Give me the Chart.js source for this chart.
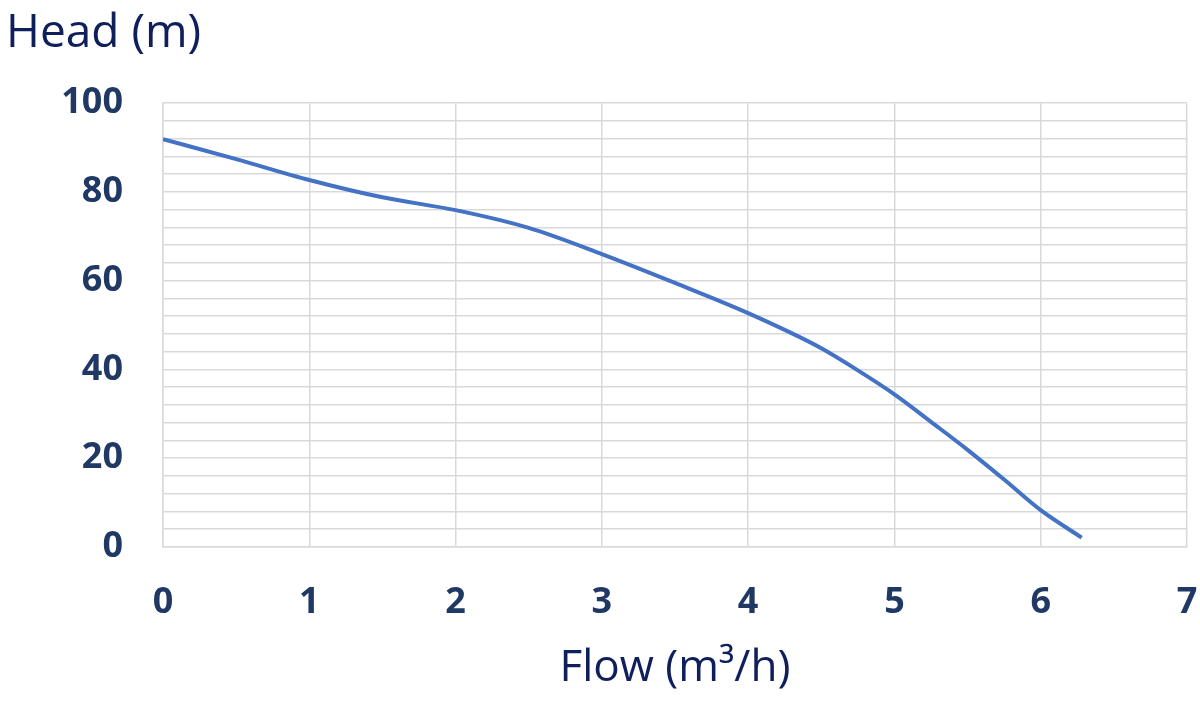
<!DOCTYPE html>
<html>
<head>
<meta charset="utf-8">
<script src="https://cdn.jsdelivr.net/npm/chart.js@4.4.1/dist/chart.umd.min.js"></script>
<style>
  html, body { margin: 0; padding: 0; background: #fff; }
  #wrap { width: 1200px; height: 701px; }
</style>
</head>
<body>
<div id="wrap"><canvas id="pump-curve"></canvas></div>
<script>
// pump curve
var flow = [0, 0.5, 1, 1.5, 2, 2.5, 3, 3.5, 4, 4.5, 4.75, 5, 5.25, 5.5, 5.75, 6, 6.28];
var head = [91.9, 87.4, 82.7, 78.8, 75.9, 71.9, 66.0, 59.5, 52.7, 44.8, 39.8, 34.4, 28.2, 21.9, 15.2, 8.3, 2.1];

var xTicks = [0, 1, 2, 3, 4, 5, 6, 7];
var yLabels = [0, 20, 40, 60, 80, 100];

var navy = '#203864';
var gridGray = '#d9d9d9';

var points = [];
for (var i = 0; i < flow.length; i++) {
  points.push({ x: flow[i], y: head[i] });
}

new Chart(document.getElementById('pump-curve'), {
  type: 'line',
  data: {
    datasets: [{
      label: 'Head',
      data: points,
      borderColor: '#4472C4',
      borderWidth: 4,
      pointRadius: 0,
      cubicInterpolationMode: 'monotone',
      fill: false
    }]
  },
  options: {
    responsive: true,
    maintainAspectRatio: false,
    animation: false,
    layout: { padding: { left: 6, right: 13, top: 0, bottom: 0 } },
    plugins: {
      legend: { display: false },
      tooltip: { enabled: false },
      title: {
        display: true,
        text: 'Head (m)',
        align: 'start',
        color: '#0f1f5c',
        font: { family: 'Open Sans', size: 46, weight: 'normal' },
        padding: { top: 6, bottom: 42 }
      }
    },
    scales: {
      x: {
        type: 'linear',
        min: xTicks[0],
        max: xTicks[xTicks.length - 1],
        afterBuildTicks: function (axis) {
          axis.ticks = xTicks.map(function (v) { return { value: v }; });
        },
        grid: { color: gridGray, lineWidth: 1.5, drawTicks: false },
        border: { color: gridGray, width: 1.5 },
        ticks: {
          color: navy,
          padding: 34,
          font: { family: 'Open Sans', size: 36, weight: 'bold' }
        },
        title: {
          display: true,
          text: 'Flow (m³/h)',
          color: '#0f1f5c',
          font: { family: 'Open Sans', size: 44, weight: 'normal' },
          padding: { top: 18, bottom: 6 }
        },
        afterFit: function (axis) {
          axis.height = 154;
          // no extra room for the last label, the plot runs to the right edge
          axis.paddingLeft = 0;
          axis.paddingRight = 0;
        }
      },
      y: {
        min: 0,
        max: 100,
        grid: { color: gridGray, lineWidth: 1.5, drawTicks: false },
        border: { color: gridGray, width: 1.5 },
        ticks: {
          stepSize: 4,
          autoSkip: false,
          color: navy,
          padding: 40,
          font: { family: 'Open Sans', size: 36, weight: 'bold' },
          callback: function (v) {
            return yLabels.indexOf(v) >= 0 ? String(v) : '';
          }
        },
        afterFit: function (axis) { axis.width = 157; }
      }
    }
  }
});
</script>
</body>
</html>
